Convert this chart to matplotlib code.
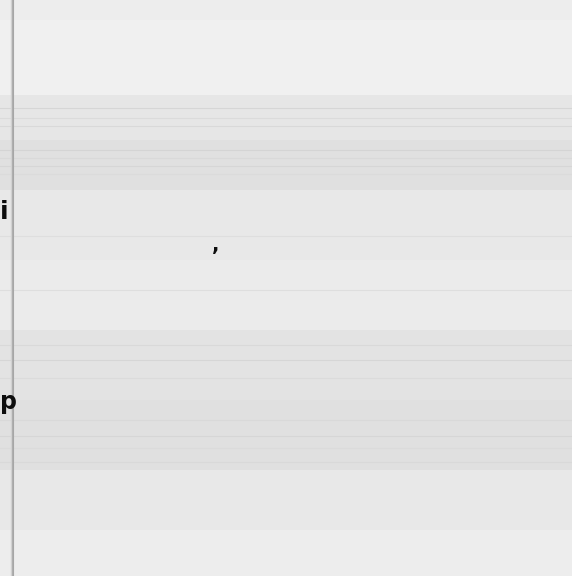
import matplotlib
matplotlib.use("Agg")
import matplotlib.pyplot as plt

# horizontal tone bands of the scanned page (top, bottom, grey level)
band_top = [0, 20, 95, 140, 190, 260, 330, 400, 470, 530]
band_bottom = [20, 95, 140, 190, 260, 330, 400, 470, 530, 576]
band_grey = [0.93, 0.94, 0.90, 0.88, 0.91, 0.92, 0.89, 0.88, 0.91, 0.93]

# faint scan lines
line_y = [108, 118, 126, 150, 158, 166, 174, 236, 290, 345, 360, 378, 420, 436, 448, 462]
line_grey = [0.84, 0.86, 0.85, 0.83, 0.85, 0.84, 0.86, 0.87, 0.87, 0.85, 0.84, 0.86, 0.85, 0.84, 0.86, 0.85]

# text fragments at the page edge
frag_text = ["i", "p", ","]
frag_x = [0, 0, 212]
frag_y = [212, 402, 246]
frag_size = [18, 17, 14]

fig = plt.figure(figsize=(5.72, 5.76), dpi=100)
ax = fig.add_axes([0, 0, 1, 1])
ax.set_xlim(0, 572)
ax.set_ylim(576, 0)
ax.axis("off")

for t, b, g in zip(band_top, band_bottom, band_grey):
    ax.axhspan(t, b, color=str(g), lw=0)

for y, g in zip(line_y, line_grey):
    ax.axhline(y, color=str(g), lw=0.8)

# left margin line
ax.axvline(13, color="0.65", lw=1.5)
ax.axvline(11, color="0.82", lw=1.0)

for s, x, y, fs in zip(frag_text, frag_x, frag_y, frag_size):
    ax.text(x, y, s, fontsize=fs, color="0.05", va="center", ha="left",
            family="DejaVu Sans", fontweight="bold")

fig.savefig("out.png", dpi=100)
